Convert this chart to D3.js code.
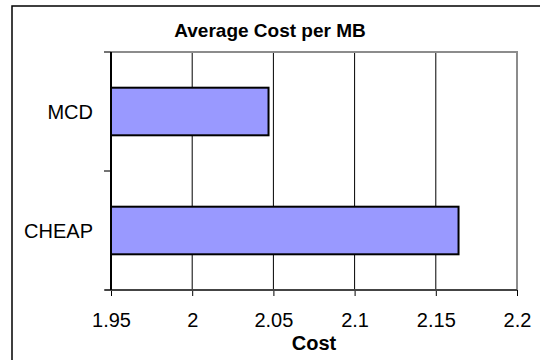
<!DOCTYPE html>
<html>
<head>
<meta charset="utf-8">
<script src="https://cdn.jsdelivr.net/npm/d3@7"></script>
<style>
  html, body { margin: 0; padding: 0; background: #fff; }
  svg { display: block; }
  text { font-family: "Liberation Sans", Arial, sans-serif; fill: #000; }
</style>
</head>
<body>
<svg id="chart" width="540" height="360"></svg>
<script>
// Data
const categories = ["MCD", "CHEAP"];
const costs = [2.047, 2.164];
const xTicks = [1.95, 2, 2.05, 2.1, 2.15, 2.2];
const chartTitle = "Average Cost per MB";
const xTitle = "Cost";

const svg = d3.select("#chart");

// Plot area
const plot = { left: 111, right: 517, top: 52, bottom: 290 };

const x = d3.scaleLinear().domain([1.95, 2.2]).range([plot.left, plot.right]);
const y = d3.scaleBand().domain(categories).range([plot.top, plot.bottom])
  .paddingInner(0.6).paddingOuter(0.3);

// Outer chart border (runs past the right and bottom edges)
svg.append("rect")
  .attr("x", 12).attr("y", 6)
  .attr("width", 560).attr("height", 400)
  .attr("fill", "#fff").attr("stroke", "#000").attr("stroke-width", 1.5);

// Title
svg.append("text")
  .attr("x", 270).attr("y", 37)
  .attr("text-anchor", "middle")
  .attr("font-size", 19).attr("font-weight", "bold")
  .text(chartTitle);

// Vertical gridlines
svg.append("g").selectAll("line")
  .data(xTicks.slice(1, -1))
  .join("line")
  .attr("x1", d => x(d)).attr("x2", d => x(d))
  .attr("y1", plot.top).attr("y2", plot.bottom)
  .attr("stroke", "#000").attr("stroke-width", 1);

// Plot frame: top and right edges in grey
svg.append("path")
  .attr("d", `M${plot.left},${plot.top}H${plot.right}V${plot.bottom}`)
  .attr("fill", "none").attr("stroke", "#8c8c8c").attr("stroke-width", 2);

// Bars
svg.append("g").selectAll("rect")
  .data(categories.map((c, i) => ({ c, v: costs[i] })))
  .join("rect")
  .attr("x", x(1.95))
  .attr("y", d => y(d.c))
  .attr("width", d => x(d.v) - x(1.95))
  .attr("height", y.bandwidth())
  .attr("fill", "#9999ff")
  .attr("stroke", "#000").attr("stroke-width", 2);

// Bottom axis
const xAxis = d3.axisBottom(x).tickValues(xTicks).tickSize(6).tickSizeOuter(0)
  .tickFormat(d3.format("~g"));
const gx = svg.append("g").attr("transform", `translate(0,${plot.bottom})`).call(xAxis);
gx.select(".domain").remove();
gx.selectAll(".tick line").attr("stroke", "#000").attr("stroke-width", 1);
gx.selectAll(".tick text")
  .attr("y", 0).attr("dy", 0)
  .attr("transform", "translate(0,37)")
  .attr("font-size", 20).attr("font-family", "Liberation Sans, Arial, sans-serif");
svg.append("line")
  .attr("x1", plot.left - 6).attr("x2", plot.right)
  .attr("y1", plot.bottom).attr("y2", plot.bottom)
  .attr("stroke", "#444").attr("stroke-width", 2);

// Left axis: category labels, boundary ticks between categories
const step = y.step();
const boundaries = [plot.top, plot.top + step, plot.bottom];
svg.append("g").selectAll("line")
  .data(boundaries)
  .join("line")
  .attr("x1", plot.left - 7).attr("x2", plot.left)
  .attr("y1", d => d).attr("y2", d => d)
  .attr("stroke", "#444").attr("stroke-width", 1.5);
svg.append("line")
  .attr("x1", plot.left).attr("x2", plot.left)
  .attr("y1", plot.top).attr("y2", plot.bottom)
  .attr("stroke", "#000").attr("stroke-width", 2);
svg.append("g").selectAll("text")
  .data(categories)
  .join("text")
  .attr("x", 93)
  .attr("y", d => y(d) + y.bandwidth() / 2)
  .attr("dy", "0.35em")
  .attr("text-anchor", "end")
  .attr("font-size", 20)
  .text(d => d);

// Axis title
svg.append("text")
  .attr("x", (plot.left + plot.right) / 2).attr("y", 350)
  .attr("text-anchor", "middle")
  .attr("font-size", 20).attr("font-weight", "bold")
  .text(xTitle);
</script>
</body>
</html>
